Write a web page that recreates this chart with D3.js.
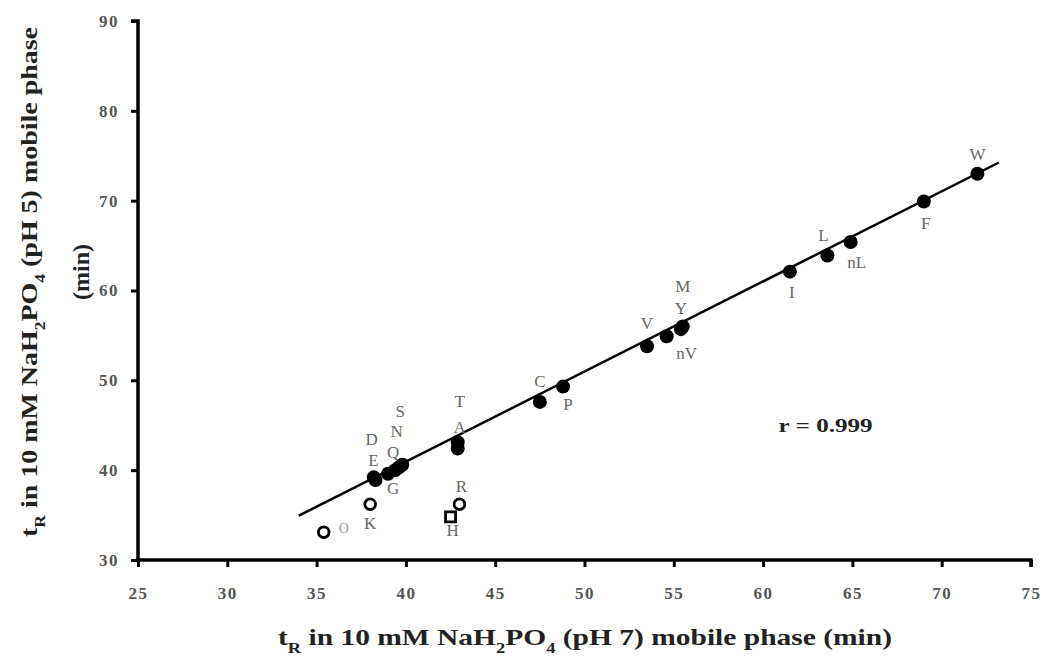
<!DOCTYPE html>
<html>
<head>
<meta charset="utf-8">
<script src="https://cdn.jsdelivr.net/npm/d3@7"></script>
<style>
  body { margin: 0; background: #fff; }
  svg { display: block; }
  .tick text { font-family: "Liberation Serif", serif; font-weight: bold; fill: #555; font-size: 17px; letter-spacing: 1.5px; }
  .ptlabel { font-family: "Liberation Serif", serif; fill: #666; font-size: 17px; }
  .title { font-family: "Liberation Serif", serif; font-weight: bold; fill: #222; font-size: 24px; }
</style>
</head>
<body>
<svg width="1046" height="661"></svg>
<script>
// retention times (min): pH 7 on x, pH 5 on y
var filledNames = ["D", "E", "G", "Q", "N", "S", "A", "T", "C", "P", "V", "nV", "Y", "M", "I", "L", "nL", "F", "W"];
var filledX = [38.2, 38.3, 39.0, 39.4, 39.6, 39.8, 42.9, 42.9, 47.5, 48.8, 53.5, 54.6, 55.4, 55.5, 61.5, 63.6, 64.9, 69.0, 72.0];
var filledY = [39.2, 38.9, 39.6, 40.0, 40.3, 40.6, 42.4, 43.1, 47.6, 49.3, 53.8, 54.9, 55.7, 56.0, 62.1, 63.9, 65.4, 69.9, 73.0];

var openNames = ["O", "K", "H", "R"];
var openX = [35.4, 38.0, 42.5, 43.0];
var openY = [33.1, 36.2, 34.8, 36.2];

// regression line (r = 0.999), end points in x
var fitX = [34.0, 73.2];
var fitSlope = 1.003, fitIntercept = 0.83;

var xTicks = [25, 30, 35, 40, 45, 50, 55, 60, 65, 70, 75];
var yTicks = [30, 40, 50, 60, 70, 80, 90];

// label placement (pixel offsets from the point)
var labelOffset = {
    W: [0, -19], F: [2, 22], nL: [6, 21], L: [-4, -20], I: [2, 21],
    M: [0, -40], Y: [0, -21], nV: [20, 17], V: [0, -23], C: [0, -20], P: [5, 18],
    T: [2, -41], A: [2, -21], S: [-2, -53], N: [-2, -36], Q: [-2, -18],
    D: [-2, -38], E: [-2, -20], G: [5, 15],
    O: [20, -4], K: [0, 19], R: [2, -18], H: [2, 14]
};

var svg = d3.select("svg"),
    margin = {top: 21, right: 15, bottom: 101, left: 138},
    width = 1046 - margin.left - margin.right,
    height = 661 - margin.top - margin.bottom;

var g = svg.append("g")
    .attr("transform", "translate(" + margin.left + "," + margin.top + ")");

var x = d3.scaleLinear().domain([25, 75]).range([0, width]);
var y = d3.scaleLinear().domain([30, 90]).range([height, 0]);

var xAxis = g.append("g")
    .attr("transform", "translate(0," + height + ")")
    .call(d3.axisBottom(x).tickValues(xTicks).tickSize(7).tickPadding(20));
var yAxis = g.append("g")
    .call(d3.axisLeft(y).tickValues(yTicks).tickSize(7).tickPadding(12));

[xAxis, yAxis].forEach(function (a) {
    a.select(".domain").attr("stroke", "#000").attr("stroke-width", 3.5);
    a.selectAll(".tick line").attr("stroke", "#000").attr("stroke-width", 3);
});
yAxis.select(".domain").attr("d", "M-7," + 0 + "H0V" + height);
xAxis.select(".domain").attr("d", "M0,0H" + width + "V7");

// fit line
g.append("line")
    .attr("x1", x(fitX[0]))
    .attr("y1", y(fitSlope * fitX[0] + fitIntercept))
    .attr("x2", x(fitX[1]))
    .attr("y2", y(fitSlope * fitX[1] + fitIntercept))
    .attr("stroke", "#000")
    .attr("stroke-width", 2.5);

var filled = filledNames.map(function (n, i) {
    return {name: n, x: filledX[i], y: filledY[i]};
});
var open = openNames.map(function (n, i) {
    return {name: n, x: openX[i], y: openY[i]};
});

g.append("g").selectAll("circle")
    .data(filled)
    .enter().append("circle")
    .attr("cx", function (d) { return x(d.x); })
    .attr("cy", function (d) { return y(d.y); })
    .attr("r", 7)
    .attr("fill", "#000");

g.append("g").selectAll("path")
    .data(open)
    .enter().append("path")
    .attr("transform", function (d) {
        return "translate(" + x(d.x) + "," + y(d.y) + ")";
    })
    .attr("d", function (d) {
        return d.name === "H" ? "M-5,-5H5V5H-5Z" : d3.symbol(d3.symbolCircle, 90)();
    })
    .attr("fill", "#fff")
    .attr("stroke", "#000")
    .attr("stroke-width", 2.8);

g.append("g").selectAll("text")
    .data(filled.concat(open))
    .enter().append("text")
    .attr("class", "ptlabel")
    .attr("text-anchor", "middle")
    .attr("dominant-baseline", "central")
    .attr("x", function (d) { return x(d.x) + labelOffset[d.name][0]; })
    .attr("y", function (d) { return y(d.y) + labelOffset[d.name][1]; })
    .style("font-size", function (d) { return d.name === "O" ? "14px" : null; })
    .style("fill", function (d) { return d.name === "O" ? "#999" : null; })
    .text(function (d) { return d.name; });

g.append("text")
    .attr("class", "title")
    .attr("x", x(63.5))
    .attr("y", y(44.3))
    .attr("text-anchor", "middle")
    .attr("textLength", 94)
    .attr("lengthAdjust", "spacingAndGlyphs")
    .style("font-size", "19px")
    .text("r = 0.999");

// axis titles
function chemTitle(sel, ph) {
    sel.append("tspan").text("t");
    sel.append("tspan").attr("baseline-shift", "sub").style("font-size", "15px").text("R");
    sel.append("tspan").text(" in 10 mM NaH");
    sel.append("tspan").attr("baseline-shift", "sub").style("font-size", "15px").text("2");
    sel.append("tspan").text("PO");
    sel.append("tspan").attr("baseline-shift", "sub").style("font-size", "15px").text("4");
    sel.append("tspan").text(" (pH " + ph + ") mobile phase");
}

var xt = svg.append("text")
    .attr("class", "title")
    .attr("x", 585)
    .attr("y", 645)
    .attr("text-anchor", "middle")
    .attr("textLength", 614)
    .attr("lengthAdjust", "spacingAndGlyphs");
chemTitle(xt, 7);
xt.append("tspan").text(" (min)");

var yt = svg.append("text")
    .attr("class", "title")
    .attr("transform", "translate(37,282) rotate(-90)")
    .attr("text-anchor", "middle")
    .attr("textLength", 510)
    .attr("lengthAdjust", "spacingAndGlyphs");
chemTitle(yt, 5);

svg.append("text")
    .attr("class", "title")
    .attr("transform", "translate(89,272) rotate(-90)")
    .attr("text-anchor", "middle")
    .text("(min)");
</script>
</body>
</html>
